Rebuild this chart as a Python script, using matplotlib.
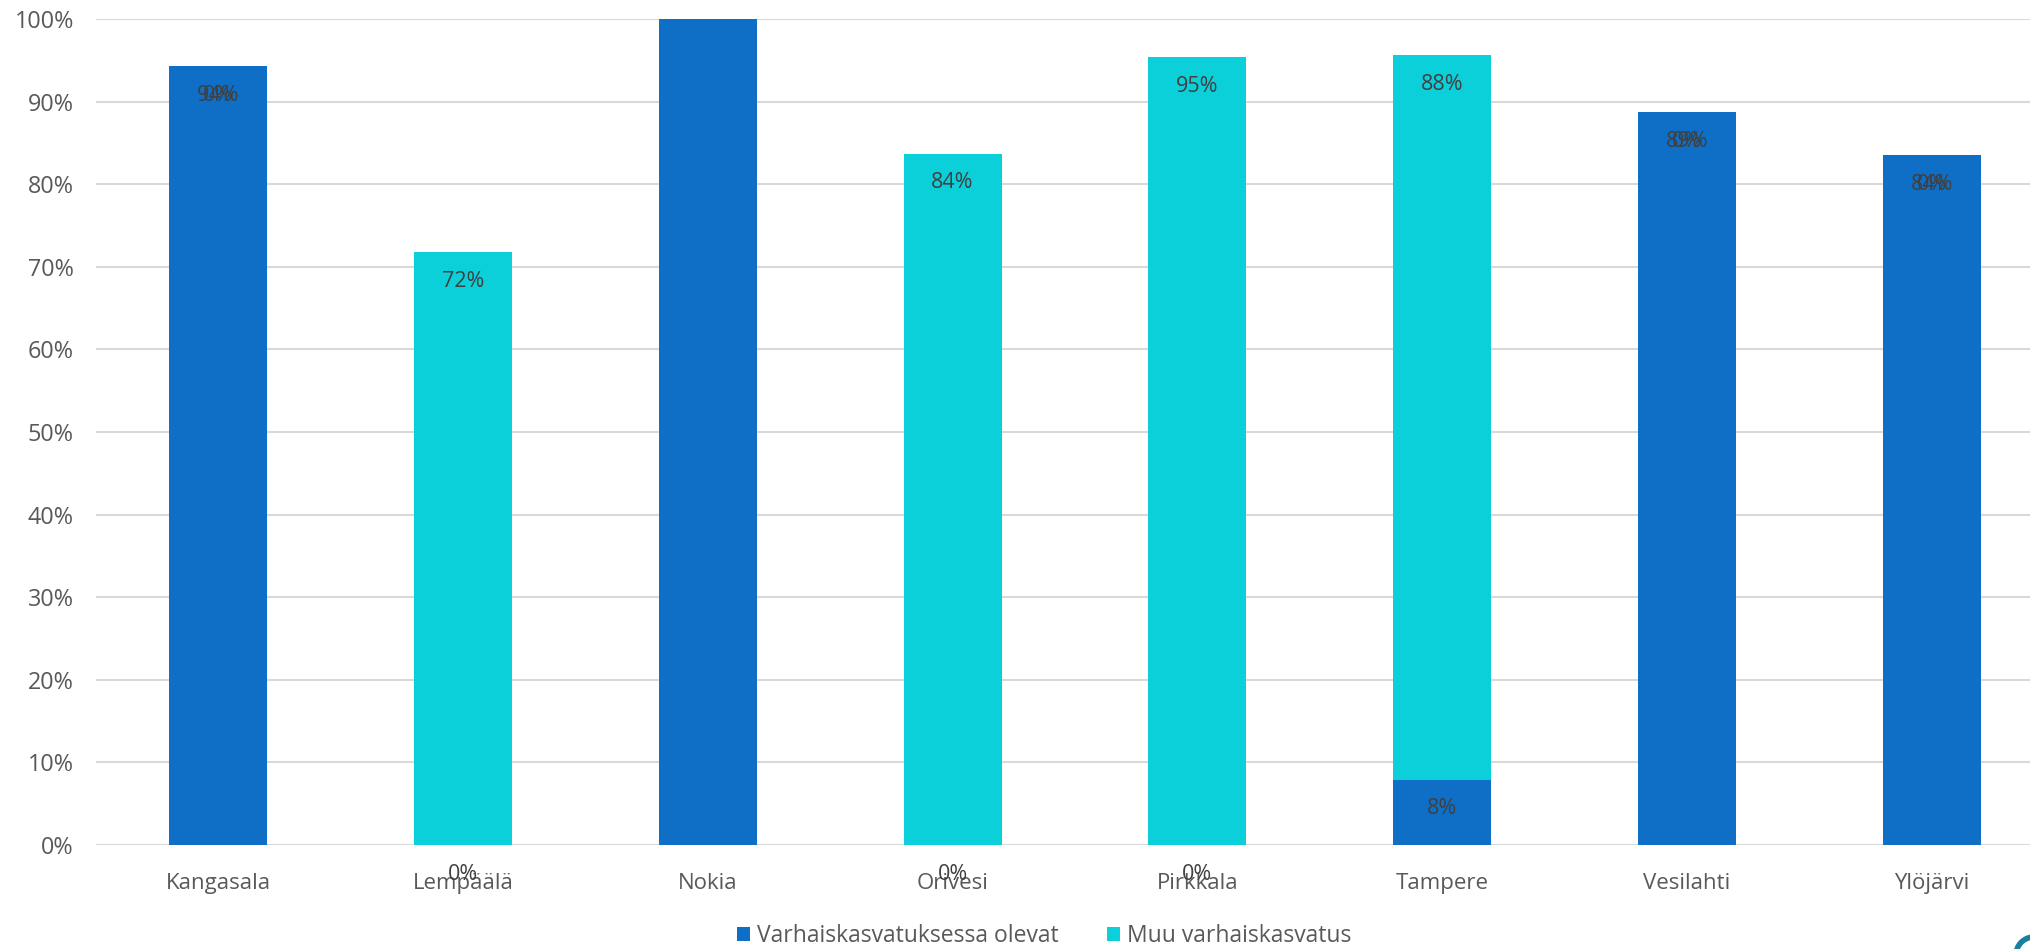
import matplotlib.pyplot as plt
from matplotlib.patches import Circle

# Kunnat ja osuudet (%)
kunnat = ['Kangasala', 'Lempäälä', 'Nokia', 'Orivesi', 'Pirkkala', 'Tampere', 'Vesilahti', 'Ylöjärvi']
varhaiskasvatuksessa = [94.3, 0, 100, 0, 0, 7.9, 88.7, 83.5]
muu_varhaiskasvatus = [0, 71.8, 0, 83.7, 95.4, 87.7, 0, 0]
# Nokian arvoilla ei ole näkyviä otsikoita
otsikot_var = ['94%', '0%', '', '0%', '0%', '8%', '89%', '84%']
otsikot_muu = ['0%', '72%', '', '84%', '95%', '88%', '0%', '0%']
sarjat = ['Varhaiskasvatuksessa olevat', 'Muu varhaiskasvatus']
ytikit = [0, 10, 20, 30, 40, 50, 60, 70, 80, 90, 100]

VARI1 = '#0F6FC6'
VARI2 = '#0BD0D9'

plt.rcParams['font.family'] = ['Open Sans', 'DejaVu Sans']

fig = plt.figure(figsize=(20.31, 9.49), dpi=100)
ax = fig.add_axes([96 / 2031, 104 / 949, 1958 / 2031, 826 / 949])

x = list(range(len(kunnat)))
b1 = ax.bar(x, varhaiskasvatuksessa, width=0.4, color=VARI1, label=sarjat[0], zorder=3)
b2 = ax.bar(x, muu_varhaiskasvatus, width=0.4, bottom=varhaiskasvatuksessa,
            color=VARI2, label=sarjat[1], zorder=3)

# Otsikot "inside end" -tyylillä
for i in x:
    ylin1 = varhaiskasvatuksessa[i]
    ylin2 = varhaiskasvatuksessa[i] + muu_varhaiskasvatus[i]
    for teksti, yy in ((otsikot_var[i], ylin1), (otsikot_muu[i], ylin2)):
        if teksti:
            ax.annotate(teksti, (i, yy), xytext=(0, -21), textcoords='offset points',
                        ha='center', va='center', fontsize=15.5, color='#404040', zorder=5,
                        annotation_clip=False)

ax.set_xlim(-0.5, len(kunnat) - 0.5)
ax.set_ylim(0, 100)
ax.set_yticks(ytikit)
ax.set_yticklabels([f'{t}%' for t in ytikit])
ax.set_xticks(x)
ax.set_xticklabels(kunnat)
ax.tick_params(axis='y', length=0, pad=16, labelsize=16.8, labelcolor='#595959')
ax.tick_params(axis='x', length=0, pad=20, labelsize=16, labelcolor='#595959')
ax.yaxis.grid(True, color='#d9d9d9', linewidth=1.5, zorder=0)
ax.set_axisbelow(True)
for s in ax.spines.values():
    s.set_visible(False)

fig.legend(handles=[b1, b2], labels=sarjat, loc='center', bbox_to_anchor=(1044 / 2031, 13 / 949),
           ncol=2, frameon=False, fontsize=16.5, labelcolor='#595959', handlelength=0.58,
           handleheight=0.58, handletextpad=0.3, columnspacing=2.1)

# logon reuna oikeassa alakulmassa
fig.patches.append(Circle((2034, -6), 18, transform=None, fill=False,
                          edgecolor='#1B7F9E', linewidth=4))

fig.savefig('out.png', dpi=100)
